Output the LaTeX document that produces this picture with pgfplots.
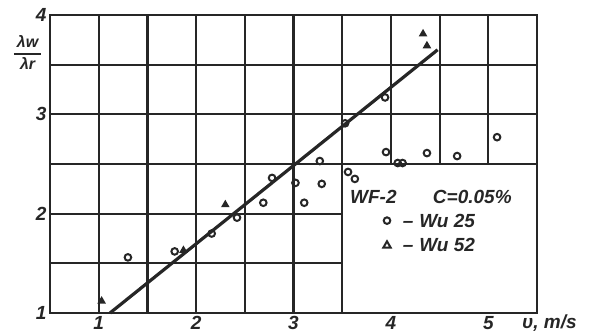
\documentclass[border=0pt]{standalone}
\usepackage{fontspec}
\setmainfont{Liberation Sans}
\usepackage{pgfplots}
\pgfplotsset{compat=1.18}
\definecolor{ink}{HTML}{262626}
\begin{document}
\begin{tikzpicture}[x=1pt,y=1pt]
\useasboundingbox (0,0) rectangle (592,333);
\begin{axis}[
  at={(50pt,20pt)}, anchor=south west,
  scale only axis, width=487pt, height=298pt,
  xmin=0.5, xmax=5.5, ymin=1, ymax=4,
  axis line style={ink, line width=2.4pt},
  xtick={1,2,3,4,5}, ytick={1,2,3,4},
  major tick length=0pt,
  /pgf/number format/assume math mode=true,
  ticklabel style={font=\fontsize{19}{19}\selectfont\bfseries\itshape, text=ink},
  clip=false,
]
% grid
\pgfplotsinvokeforeach{1,1.5,2,2.5,3,3.5}{\draw[ink, line width=2.2pt] (axis cs:#1,1) -- (axis cs:#1,4);}
\pgfplotsinvokeforeach{4,4.5,5}{\draw[ink, line width=2.2pt] (axis cs:#1,2.5) -- (axis cs:#1,4);}
\pgfplotsinvokeforeach{2.5,3,3.5}{\draw[ink, line width=2.2pt] (axis cs:0.5,#1) -- (axis cs:5.5,#1);}
\pgfplotsinvokeforeach{1.5,2}{\draw[ink, line width=2.2pt] (axis cs:0.5,#1) -- (axis cs:3.5,#1);}

% fitted line
\addplot[ink, line width=3.2pt] coordinates {(1.116,1.0) (4.48,3.65)};

% Wu 25 (circles)
\addplot[only marks, mark=o, mark size=3.3pt, mark options={ink, line width=2pt}] coordinates {
(1.30,1.56) (1.78,1.62) (2.16,1.80) (2.42,1.96) (2.69,2.11) (2.78,2.36)
(3.02,2.31) (3.29,2.30) (3.11,2.11) (3.56,2.42) (3.63,2.35) (3.95,2.62)
(4.07,2.51) (4.12,2.51) (4.37,2.61) (4.68,2.58) (5.09,2.77) (3.94,3.17)
(3.53,2.91) (3.27,2.53)
};
% Wu 52 (triangles)
\addplot[only marks, mark=triangle*, mark size=3.6pt, mark options={ink, line width=1.4pt}] coordinates {
(1.03,1.12) (1.87,1.63) (2.30,2.09) (4.33,3.81) (4.37,3.69)
};

% legend markers
\addplot[only marks, mark=o, mark size=3.3pt, mark options={ink, line width=2pt}] coordinates {(3.96,1.93)};
\addplot[only marks, mark=triangle, mark size=4.2pt, mark options={ink, line width=2pt}] coordinates {(3.96,1.68)};

% legend text
\node[anchor=west, text=ink, font=\fontsize{19}{19}\selectfont\bfseries\itshape, inner sep=0pt] at (axis cs:3.58,2.17) {WF-2};
\node[anchor=west, text=ink, font=\fontsize{19}{19}\selectfont\bfseries\itshape, inner sep=0pt] at (axis cs:4.43,2.17) {C=0.05\%};
\node[anchor=west, text=ink, font=\fontsize{19}{19}\selectfont\bfseries\itshape, inner sep=0pt] at (axis cs:4.12,1.93) {–\hspace{6pt}Wu 25};
\node[anchor=west, text=ink, font=\fontsize{19}{19}\selectfont\bfseries\itshape, inner sep=0pt] at (axis cs:4.12,1.68) {–\hspace{6pt}Wu 52};

% axis labels
\node[anchor=west, text=ink, font=\fontsize{19}{19}\selectfont\bfseries\itshape, inner sep=0pt] at (axis cs:5.5,1) [xshift=-15pt, yshift=-10pt] {υ, m/s};
\node[text=ink, font=\fontsize{16}{16}\selectfont\bfseries\itshape, inner sep=0pt] at (axis cs:0.27,3.6) {\setlength{\arrayrulewidth}{1.6pt}\begin{tabular}{@{\hspace{3pt}}c@{\hspace{3pt}}}λw\\[1pt]\hline\rule{0pt}{15pt}λr\end{tabular}};
\end{axis}
\end{tikzpicture}
\end{document}
